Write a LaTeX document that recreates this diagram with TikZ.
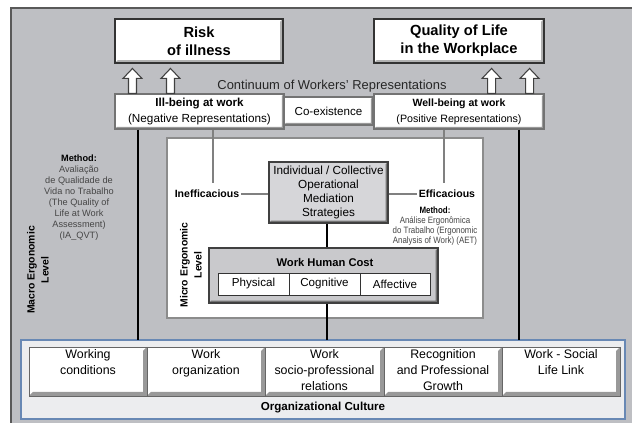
\documentclass[tikz,border=0pt]{standalone}
\usepackage{fontspec}
\setmainfont{Liberation Sans}
\newfontfamily\narrowsans[FakeStretch=0.86]{Liberation Sans}
\usetikzlibrary{fit,calc}

\definecolor{panel}{RGB}{190,191,195}
\definecolor{stratfill}{RGB}{214,214,217}
\definecolor{costfill}{RGB}{201,201,204}
\definecolor{orgfill}{RGB}{236,237,239}
\definecolor{orgline}{RGB}{104,136,180}
\definecolor{methodgray}{RGB}{70,70,70}

% hollow upward block arrow standing on a base point
\newcommand{\upblock}[1]{%
  \filldraw[blockarrow] ($(#1)+(-4,0)$) -- ++(0,-15) -- ++(-5.5,0) -- ++(9.5,-10)
    -- ++(9.5,10) -- ++(-5.5,0) -- ++(0,15) -- cycle;}

\begin{document}
\begin{tikzpicture}[x=0.75pt,y=-0.75pt,
  bevel/.style 2 args={path picture={%
    \fill[#1] (path picture bounding box.south west) -- (path picture bounding box.south east)
      -- (path picture bounding box.north east)
      -- ([shift={(-#2,-#2)}]path picture bounding box.north east)
      -- ([shift={(-#2,#2)}]path picture bounding box.south east)
      -- ([shift={(#2,#2)}]path picture bounding box.south west) -- cycle;}},
  topbox/.style={fill=white, draw=black!80, line width=1.2pt, bevel={black!30}{2.2pt}, inner sep=0pt},
  repbox/.style={fill=white, draw=black!55, line width=0.8pt, bevel={black!40}{1.6pt}, inner sep=0pt},
  stratbox/.style={fill=stratfill, draw=black!75, line width=0.9pt, bevel={black!55}{1.8pt}, inner sep=0pt},
  costbox/.style={fill=costfill, draw=black!75, line width=0.9pt, bevel={black!55}{1.8pt}, inner sep=0pt},
  subbox/.style={fill=white, draw=black!80, line width=0.7pt, inner sep=0pt},
  factorbox/.style={fill=white, draw=black!60, line width=0.7pt, bevel={black!40}{3pt}, inner sep=0pt},
  blockarrow/.style={fill=white, draw=black!75, line width=0.8pt, line join=miter},
  thicklink/.style={draw=black, line width=1.6pt},
  thinlink/.style={draw=black!50, line width=1.1pt},
  label/.style={inner sep=1.5pt, align=center},
  toptext/.style={label, font=\bfseries\fontsize{11}{13.5}\selectfont},
  factortext/.style={label, inner sep=0pt, anchor=north, font=\fontsize{9.3}{12}\selectfont}]

\useasboundingbox (0,0) rectangle (632,423);
\clip (0,0) rectangle (632,423);
\fill[white] (0,0) rectangle (632,423);

% grey background panel
\filldraw[fill=panel, draw=black!65, line width=0.8pt] (11,8) rectangle (660,450);

% micro level frame and organisational frame
\node[fill=white, draw=black!45, line width=1pt, inner sep=0pt, fit={(167,138) (483,318)}] (micro) {};
\node[fill=orgfill, draw=orgline, line width=1pt, inner sep=0pt, fit={(21,340) (625,419)}] (org) {};

% continuum of representations
\node[repbox, fit={(284,97) (373,125)}] (coex) {};
\node[label, font=\fontsize{8.7}{10.5}\selectfont] at (coex) {Co-existence};
\node[repbox, fit={(115,94) (284,129)}] (ill) {};
\node[label] at (ill)
  {{\bfseries\fontsize{8.7}{10.5}\selectfont Ill-being at work}\\
   {\fontsize{8.8}{10.5}\selectfont (Negative Representations)}};
\node[repbox, fit={(374,94) (544,129)}] (well) {};
\node[label] at (well)
  {{\bfseries\fontsize{7.9}{10.5}\selectfont Well-being at work}\\
   {\fontsize{8}{10.5}\selectfont (Positive Representations)}};

% outcomes
\node[topbox, fit={(115,19) (283,63)}] (risk) {};
\node[toptext] at (risk) {Risk\\of illness};
\node[topbox, fit={(374,19) (544,63)}] (qwl) {};
\node[toptext] at (qwl) {Quality of Life\\in the Workplace};

\upblock{$(ill.north west)+(18,0)$}
\upblock{$(ill.north west)+(56,0)$}
\upblock{$(well.north east)+(-53,0)$}
\upblock{$(well.north east)+(-15,0)$}

\node[label, font=\fontsize{9.7}{11}\selectfont, text=black!85] (continuum) at (332,86)
  {Continuum of Workers' Representations};

% mediation strategies and work human cost
\node[stratbox, fit={(269,162) (388,223)}] (strat) {};
\node[label, font=\fontsize{8.8}{10.5}\selectfont] at (strat)
  {Individual / Collective\\Operational\\Mediation\\Strategies};
\node[costbox, fit={(209,248) (438,303)}] (cost) {};
\node[label, font=\bfseries\fontsize{8.4}{9}\selectfont] (costtitle) at (325,263) {Work Human Cost};
\node[subbox, fit={(218,273) (289,295)}] (phys) {};
\node[subbox, fit={(289,273) (360,295)}] (cogn) {};
\node[subbox, fit={(360,273) (430,295)}] (affe) {};
\node[label, font=\fontsize{8.7}{10}\selectfont] at (phys) {Physical};
\node[label, font=\fontsize{8.7}{10}\selectfont] at (cogn) {Cognitive};
\node[label, font=\fontsize{8.7}{10}\selectfont] at (affe) {Affective};

% organisational factors
\node[factorbox, fit={(29,347) (147,396)}] (f1) {};
\node[factorbox, fit={(147,347) (265,396)}] (f2) {};
\node[factorbox, fit={(265,347) (384,396)}] (f3) {};
\node[factorbox, fit={(384,347) (502,396)}] (f4) {};
\node[factorbox, fit={(502,347) (620,396)}] (f5) {};
\node[factortext] at ($(f1.north)+(0,3)$) {Working\\conditions};
\node[factortext] at ($(f2.north)+(0,3)$) {Work\\organization};
\node[factortext] at ($(f3.north)+(0,3)$) {Work\\socio-professional\\relations};
\node[factortext] at ($(f4.north)+(0,3)$) {Recognition\\and Professional\\Growth};
\node[factortext] at ($(f5.north)+(0,3)$) {Work - Social\\Life Link};
\node[label, font=\bfseries\fontsize{8.7}{10}\selectfont] (culture) at (323,408) {Organizational Culture};

% efficacy labels
\node[label, font=\bfseries\fontsize{7.9}{9}\selectfont] (inef) at (207,194) {Inefficacious};
\node[label, font=\bfseries\fontsize{7.9}{9}\selectfont] (eff) at (447,194) {Efficacious};

% methods
\node[label, font=\fontsize{6.9}{8.25}\selectfont, text=methodgray] (macromethod) at (79,197.5)
  {\textcolor{black}{\bfseries Method:}\\Avaliação\\de Qualidade de\\Vida no Trabalho\\(The Quality of\\Life at Work\\Assessment)\\(IA\_QVT)};
\node[label, font=\narrowsans\fontsize{6.9}{7.5}\selectfont, text=methodgray] (micromethod) at (435,226)
  {\textcolor{black}{\bfseries Method:}\\Análise Ergonômica\\do Trabalho (Ergonomic\\Analysis of Work) (AET)};

% level labels
\node[label, rotate=90, font=\bfseries\fontsize{7.8}{10.5}\selectfont] (macrolevel) at (38,270)
  {Macro Ergonomic\\Level};
\node[label, rotate=90, font=\bfseries\fontsize{7.8}{10.5}\selectfont] (microlevel) at (191,265)
  {Micro Ergonomic\\Level};

% connectors
\coordinate (negtop) at (213,183);
\coordinate (postop) at (444,183);
\coordinate (linkL) at (138,340);
\coordinate (linkR) at (519,340);
\coordinate (spine) at (327,340);

\draw[thinlink] (negtop |- ill.south) -- (negtop);
\draw[thinlink] (postop |- well.south) -- (postop);
\draw[thinlink] (inef.east) -- (inef.east -| strat.west);
\draw[thinlink] (eff.west -| strat.east) -- (eff.west);

\draw[thicklink] (linkL |- ill.south) -- (linkL);
\draw[thicklink] (linkR |- well.south) -- (linkR);
\draw[thicklink] (spine |- strat.south) -- (spine |- cost.north);
\draw[thicklink] (spine |- cost.south) -- (spine);
\end{tikzpicture}
\end{document}
